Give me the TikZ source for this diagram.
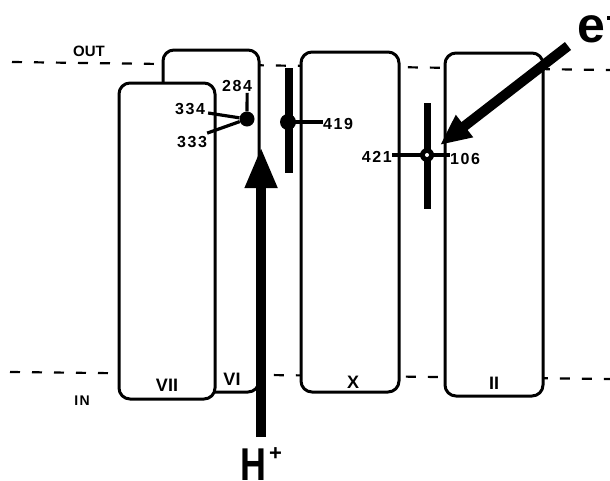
\documentclass[tikz,border=0pt]{standalone}
\usepackage{fontspec}
\setmainfont{Liberation Sans}
\newfontfamily\resfont[LetterSpace=10]{Liberation Sans}
\usetikzlibrary{arrows.meta, positioning, calc}

\begin{document}
\begin{tikzpicture}[
    x=1pt, y=-1pt,
    helix/.style={rectangle, draw, line width=3pt, rounded corners=11pt, fill=white, inner sep=0pt},
    numeral/.style={font=\bfseries\fontsize{18}{18}\selectfont, inner sep=0pt},
    resnum/.style={font=\resfont\bfseries\fontsize{16}{16}\selectfont, inner sep=0pt},
    sidelabel/.style={font=\resfont\bfseries\fontsize{14}{14}\selectfont, inner sep=0pt},
    memline/.style={line width=2.2pt, dash pattern=on 10pt off 12pt},
    resbar/.style={line width=7.5pt},
    tick/.style={line width=3.2pt},
    resdot/.style={circle, fill=black, inner sep=0pt, minimum size=15pt},
    bigarr/.style={line width=10pt, -{Triangle[length=41pt, width=30pt]}},
]
\useasboundingbox (0,0) rectangle (610,480);

% Membrane boundaries
\coordinate (outL) at (12,62);
\coordinate (outR) at (610,70);
\coordinate (inL) at (10,372);
\coordinate (inR) at (610,379);
\draw[memline] (outL) -- (outR);
\draw[memline] (inL) -- (inR);
\node[font=\bfseries\fontsize{15}{15}\selectfont, inner sep=0pt] (outlbl) at (89,51) {OUT};
\node[sidelabel] (inlbl) at (82,401) {IN};

% Helices
\node[helix, minimum width=96pt, minimum height=342pt] (h6) at (211,221) {};
\node[helix, minimum width=96pt, minimum height=316pt] (h7) at (167,241) {};
\node[helix, minimum width=98pt, minimum height=340pt] (h10) at (350,222) {};
\node[helix, minimum width=98pt, minimum height=343pt] (h2) at (494,224.5) {};
\node[numeral] (l7) at (167,385) {VII};
\node[numeral] (l6) at (232,379) {VI};
\node[numeral] (l10) at (353,382) {X};
\node[numeral] (l2) at (494,383) {II};

% Residues 284, 333, 334
\node[resdot] (r284) at (247,119) {};
\node[resnum] (n284) at (237,86) {284};
\node[resnum] (n334) at (190,109) {334};
\node[resnum] (n333) at (192,142) {333};
\draw[tick] ($(n284.south east)+(-5,1)$) -- (r284);
\draw[tick] ($(n334.east)+(3,4)$) -- (r284);
\draw[tick] ($(n333.north east)+(0,-3)$) -- (r284);

% Heme 419
\coordinate (b419t) at (289,68);
\coordinate (b419b) at (289,173);
\draw[resbar] (b419t) -- (b419b);
\node[resdot, minimum size=16pt] (r419) at (288,122) {};
\node[resnum, anchor=west] (n419) at (323,124) {419};
\draw[tick] (r419.center) -- (r419.center -| n419.west);

% Heme 106/421
\coordinate (b106t) at (427,103);
\coordinate (b106b) at (427,209);
\draw[resbar, line width=7pt] (b106t) -- (b106b);
\node[resdot, minimum size=14pt] (heme) at (427,155) {};
\node[resnum, anchor=east] (n421) at (392,157) {421};
\node[resnum, anchor=west] (n106) at (450,159) {106};
\draw[tick] (n421.east |- heme) -- (n106.west |- heme);
\fill[white] (heme) circle (2pt);

% Proton path
\node[anchor=north west, inner sep=0pt] (hplus) at (240,447)
    {\scalebox{0.78}[1]{\bfseries\fontsize{46}{46}\selectfont H}\hspace{3pt}\raisebox{20pt}{\bfseries\fontsize{22}{22}\selectfont +}};
\draw[bigarr] ([yshift=10pt]hplus.north) -- ++(0,-290);

% Electron entry
\node[anchor=base west, inner sep=0pt] (elec) at (577,42)
    {\bfseries\fontsize{50}{50}\selectfont e\hspace{2pt}\rule[22pt]{14pt}{4pt}};
\coordinate (etip) at (440,145);
\draw[bigarr, -{Triangle[length=31pt, width=26pt]}] ($(elec.base west)+(-9,4)$) -- (etip);

\end{tikzpicture}
\end{document}
